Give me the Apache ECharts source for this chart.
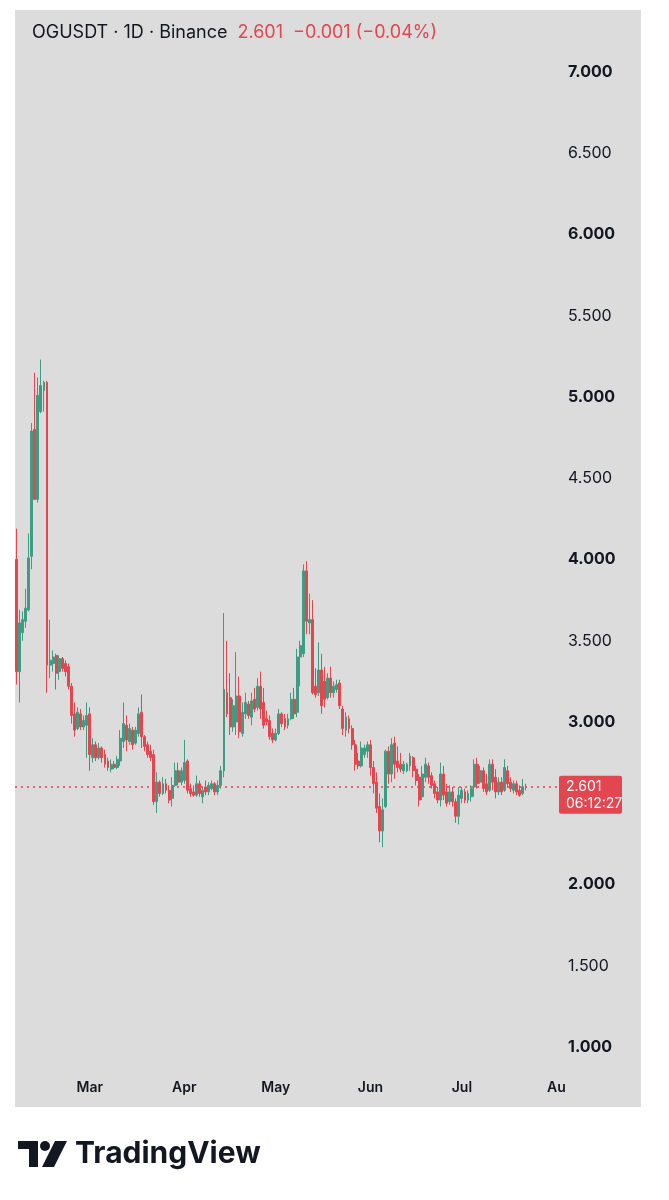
<!DOCTYPE html>
<html>
<head>
<meta charset="utf-8">
<script src="https://cdn.jsdelivr.net/npm/echarts@6/dist/echarts.min.js"></script>
<style>
  html, body { margin: 0; padding: 0; background: #fff; }
  #main { width: 669px; height: 1200px; }
</style>
</head>
<body>
<div id="main"></div>
<script>
// daily candles, 2025-02-05 .. 2025-07-22
const opens = [
  4.00, 3.31, 3.55, 3.62, 3.69, 4.02, 4.80, 4.37, 4.91, 5.04,
  5.09, 3.35, 3.36, 3.41, 3.31, 3.39, 3.36, 3.34, 3.22, 3.05,
  2.96, 3.05, 2.97, 2.98, 3.05, 2.78, 2.86, 2.78, 2.84, 2.80,
  2.76, 2.71, 2.74, 2.72, 2.76, 2.88, 2.98, 2.88, 2.95, 2.87,
  2.93, 3.06, 2.91, 2.86, 2.82, 2.80, 2.51, 2.63, 2.56, 2.62,
  2.58, 2.53, 2.61, 2.70, 2.63, 2.64, 2.76, 2.59, 2.57, 2.55,
  2.62, 2.54, 2.60, 2.57, 2.59, 2.62, 2.57, 2.61, 2.70, 3.18,
  3.15, 2.97, 3.00, 3.16, 2.93, 3.05, 3.11, 3.03, 3.14, 3.09,
  3.22, 3.12, 3.02, 3.01, 2.93, 2.89, 2.93, 3.05, 3.02, 2.98,
  3.02, 3.14, 3.06, 3.40, 3.42, 3.93, 3.61, 3.63, 3.22, 3.18,
  3.32, 3.25, 3.15, 3.27, 3.18, 3.20, 3.24, 3.08, 2.95, 3.02,
  2.96, 2.86, 2.76, 2.73, 2.80, 2.82, 2.86, 2.72, 2.63, 2.48,
  2.33, 2.48, 2.82, 2.68, 2.87, 2.76, 2.74, 2.70, 2.70, 2.73,
  2.78, 2.71, 2.66, 2.54, 2.66, 2.73, 2.67, 2.62, 2.57, 2.52,
  2.68, 2.57, 2.51, 2.57, 2.51, 2.42, 2.53, 2.57, 2.52, 2.54,
  2.60, 2.74, 2.63, 2.70, 2.62, 2.58, 2.74, 2.66, 2.57, 2.63,
  2.58, 2.70, 2.63, 2.58, 2.62, 2.58, 2.56, 2.602
];
const closes = [
  3.31, 3.61, 3.63, 3.70, 4.01, 4.79, 4.37, 5.01, 5.07, 5.09,
  3.35, 3.38, 3.40, 3.30, 3.39, 3.33, 3.31, 3.22, 3.04, 2.95,
  3.06, 2.97, 3.01, 3.04, 2.80, 2.86, 2.78, 2.84, 2.78, 2.74,
  2.72, 2.74, 2.72, 2.77, 2.90, 2.99, 2.89, 2.96, 2.86, 2.95,
  3.05, 2.91, 2.85, 2.80, 2.78, 2.51, 2.63, 2.56, 2.62, 2.58,
  2.52, 2.61, 2.70, 2.63, 2.70, 2.75, 2.58, 2.56, 2.55, 2.62,
  2.56, 2.58, 2.57, 2.61, 2.62, 2.57, 2.61, 2.70, 3.20, 3.05,
  2.97, 3.10, 3.16, 2.94, 3.06, 3.12, 3.04, 3.13, 3.08, 3.22,
  3.08, 2.98, 3.00, 2.91, 2.89, 2.93, 3.05, 2.99, 2.97, 3.02,
  3.14, 3.05, 3.40, 3.47, 3.93, 3.62, 3.63, 3.18, 3.17, 3.32,
  3.10, 3.14, 3.27, 3.18, 3.22, 3.23, 3.10, 2.96, 3.03, 2.96,
  2.86, 2.74, 2.73, 2.84, 2.84, 2.86, 2.72, 2.62, 2.47, 2.33,
  2.46, 2.82, 2.68, 2.86, 2.74, 2.72, 2.71, 2.74, 2.74, 2.79,
  2.70, 2.64, 2.52, 2.68, 2.74, 2.66, 2.61, 2.56, 2.52, 2.68,
  2.55, 2.50, 2.57, 2.51, 2.42, 2.55, 2.58, 2.52, 2.56, 2.59,
  2.74, 2.62, 2.70, 2.59, 2.57, 2.74, 2.63, 2.57, 2.63, 2.57,
  2.72, 2.62, 2.59, 2.62, 2.57, 2.55, 2.602, 2.601
];
const lows = [
  3.23, 3.12, 3.50, 3.58, 3.68, 3.94, 4.37, 4.35, 4.90, 4.91,
  3.18, 3.27, 3.31, 3.20, 3.26, 3.31, 3.28, 3.20, 2.99, 2.91,
  2.95, 2.95, 2.95, 2.78, 2.70, 2.75, 2.76, 2.77, 2.75, 2.72,
  2.70, 2.69, 2.71, 2.71, 2.73, 2.84, 2.82, 2.86, 2.83, 2.86,
  2.91, 2.84, 2.82, 2.78, 2.76, 2.49, 2.44, 2.54, 2.55, 2.56,
  2.50, 2.48, 2.60, 2.61, 2.61, 2.62, 2.56, 2.54, 2.54, 2.54,
  2.54, 2.50, 2.55, 2.55, 2.58, 2.55, 2.55, 2.59, 2.66, 3.03,
  2.92, 2.94, 2.92, 2.90, 2.91, 3.02, 3.02, 2.98, 3.06, 3.07,
  3.02, 2.96, 2.98, 2.89, 2.87, 2.88, 2.92, 2.97, 2.95, 2.96,
  3.01, 3.02, 3.03, 3.22, 3.40, 3.54, 3.54, 3.17, 3.15, 3.16,
  3.05, 3.09, 3.14, 3.15, 3.15, 3.18, 3.08, 2.92, 2.91, 2.93,
  2.83, 2.70, 2.71, 2.72, 2.78, 2.78, 2.67, 2.56, 2.44, 2.26,
  2.23, 2.47, 2.62, 2.63, 2.65, 2.69, 2.69, 2.68, 2.69, 2.70,
  2.66, 2.61, 2.48, 2.52, 2.63, 2.62, 2.59, 2.53, 2.50, 2.48,
  2.52, 2.48, 2.49, 2.48, 2.38, 2.37, 2.50, 2.50, 2.50, 2.51,
  2.54, 2.59, 2.62, 2.57, 2.55, 2.57, 2.58, 2.53, 2.55, 2.55,
  2.57, 2.60, 2.57, 2.56, 2.55, 2.54, 2.55, 2.58
];
const highs = [
  4.19, 3.69, 3.68, 3.82, 4.16, 4.84, 5.15, 5.12, 5.23, 5.10,
  5.10, 3.63, 3.44, 3.42, 3.41, 3.40, 3.38, 3.36, 3.24, 3.12,
  3.09, 3.08, 3.04, 3.12, 3.09, 2.90, 2.88, 2.87, 2.85, 2.83,
  2.78, 2.77, 2.76, 2.79, 2.95, 3.12, 3.04, 2.99, 2.97, 2.97,
  3.09, 3.17, 2.92, 2.88, 2.86, 2.83, 2.69, 2.64, 2.66, 2.65,
  2.61, 2.66, 2.75, 2.75, 2.72, 2.89, 2.77, 2.62, 2.61, 2.67,
  2.64, 2.60, 2.64, 2.63, 2.64, 2.63, 2.64, 2.73, 3.67, 3.50,
  3.30, 3.14, 3.43, 3.28, 3.12, 3.18, 3.13, 3.18, 3.21, 3.27,
  3.31, 3.21, 3.07, 3.04, 2.96, 2.96, 3.08, 3.06, 3.05, 3.05,
  3.18, 3.21, 3.45, 3.50, 3.97, 3.99, 3.79, 3.75, 3.33, 3.49,
  3.42, 3.34, 3.30, 3.34, 3.25, 3.26, 3.26, 3.10, 3.06, 3.04,
  2.98, 2.89, 2.81, 2.88, 2.86, 2.88, 2.89, 2.76, 2.69, 2.56,
  2.53, 2.83, 2.85, 2.90, 2.91, 2.85, 2.81, 2.76, 2.75, 2.81,
  2.79, 2.73, 2.68, 2.73, 2.78, 2.75, 2.69, 2.64, 2.60, 2.75,
  2.73, 2.62, 2.61, 2.60, 2.53, 2.60, 2.60, 2.59, 2.58, 2.61,
  2.77, 2.78, 2.73, 2.72, 2.68, 2.77, 2.77, 2.71, 2.66, 2.66,
  2.77, 2.73, 2.66, 2.64, 2.64, 2.61, 2.65, 2.62
];
const priceTicks = [1, 1.5, 2, 2.5, 3, 3.5, 4, 4.5, 5, 5.5, 6, 6.5, 7];
const monthNames = { '03': 'Mar', '04': 'Apr', '05': 'May', '06': 'Jun', '07': 'Jul', '08': 'Au' };
const lastPrice = 2.601;
const countdown = '06:12:27';

// category axis runs on to Aug 1 so the month label fits
const dates = [];
for (let d = new Date(Date.UTC(2025, 1, 5)); d <= new Date(Date.UTC(2025, 7, 1)); d.setUTCDate(d.getUTCDate() + 1)) {
  dates.push(d.toISOString().slice(0, 10));
}
const candles = dates.map((d, i) => i < opens.length ? [opens[i], closes[i], lows[i], highs[i]] : '-');

const UP = '#3d9c82';
const DOWN = '#e3464f';
const INK = '#131722';

function buildOption(tagY) {
  const graphic = [
    { type: 'rect', z: -10, shape: { x: 15, y: 10, width: 626, height: 1097 }, style: { fill: '#dcdcdc' } },
    // TradingView logo
    { type: 'rect', shape: { x: 18, y: 1141, width: 20, height: 8 }, style: { fill: INK } },
    { type: 'rect', shape: { x: 29, y: 1141, width: 9, height: 26 }, style: { fill: INK } },
    { type: 'circle', shape: { cx: 45, cy: 1146, r: 5 }, style: { fill: INK } },
    { type: 'polygon', shape: { points: [[55, 1141], [67, 1141], [54, 1167], [42, 1167]] }, style: { fill: INK } },
    { type: 'text', x: 75, y: 1154, style: { text: 'TradingView', font: 'bold 30px Inter', fill: INK, verticalAlign: 'middle' } }
  ];
  if (tagY != null) {
    // price tag on the scale
    graphic.push(
      { type: 'rect', z: 100, shape: { x: 559, y: tagY - 11, width: 63, height: 38, r: 2 }, style: { fill: DOWN } },
      { type: 'text', z: 101, x: 566, y: tagY, style: { text: lastPrice.toFixed(3), font: '14px Inter', fill: '#fff', verticalAlign: 'middle' } },
      { type: 'text', z: 101, x: 566, y: tagY + 17, style: { text: countdown, font: '14px Inter', fill: '#fff', verticalAlign: 'middle' } }
    );
  }
  return {
    backgroundColor: '#ffffff',
    animation: false,
    title: {
      left: 27,
      top: 19,
      text: '{a|OGUSDT · 1D · Binance}  {b|2.601  −0.001 (−0.04%)}',
      textStyle: {
        rich: {
          a: { fontFamily: 'Inter', fontSize: 18, fontWeight: 'normal', color: INK },
          b: { fontFamily: 'Inter', fontSize: 18, fontWeight: 'normal', color: DOWN }
        }
      }
    },
    graphic: graphic,
    grid: { left: 15, right: 111, top: 10, bottom: 128, containLabel: false },
    xAxis: {
      type: 'category',
      data: dates,
      boundaryGap: true,
      axisLine: { show: false },
      axisTick: { show: false },
      splitLine: { show: false },
      axisLabel: {
        interval: (idx, val) => val.slice(8) === '01',
        formatter: val => monthNames[val.slice(5, 7)] || '',
        color: INK,
        fontFamily: 'Inter',
        fontWeight: 600,
        fontSize: 14,
        margin: 9
      }
    },
    yAxis: {
      type: 'value',
      position: 'right',
      min: 0.8462,
      max: 7.3815,
      scale: true,
      axisLine: { show: false },
      axisTick: { show: false },
      splitLine: { show: false },
      axisLabel: {
        customValues: priceTicks,
        margin: 10,
        formatter: v => (Number.isInteger(v) ? '{b|' : '{n|') + v.toFixed(3) + '}',
        rich: {
          b: { fontFamily: 'Inter', fontSize: 16, fontWeight: 'bold', color: INK },
          n: { fontFamily: 'Inter', fontSize: 16, color: INK }
        }
      }
    },
    series: [{
      type: 'candlestick',
      data: candles,
      barWidth: 2.4,
      itemStyle: {
        color: UP,
        color0: DOWN,
        borderColor: UP,
        borderColor0: DOWN,
        borderWidth: 1
      },
      markLine: {
        silent: true,
        symbol: ['none', 'none'],
        data: [{ yAxis: lastPrice }],
        lineStyle: { color: DOWN, type: [2, 4], width: 1.5 },
        label: { show: false }
      }
    }]
  };
}

const chart = echarts.init(document.getElementById('main'));
chart.setOption(buildOption(null));
const tagY = chart.convertToPixel({ yAxisIndex: 0 }, lastPrice);
chart.setOption(buildOption(tagY), true);
</script>
</body>
</html>
